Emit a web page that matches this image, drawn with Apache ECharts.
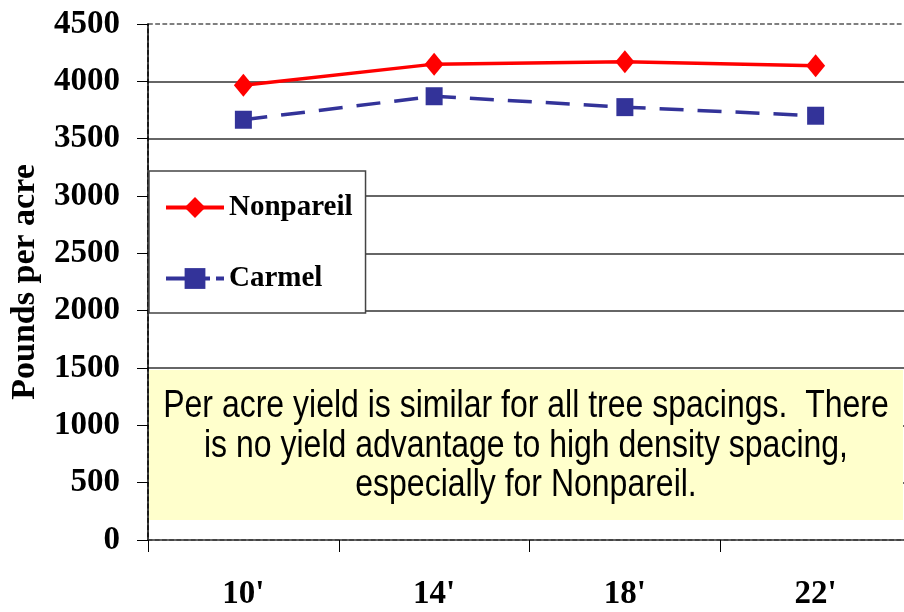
<!DOCTYPE html>
<html>
<head>
<meta charset="utf-8">
<script src="https://cdn.jsdelivr.net/npm/echarts@6/dist/echarts.min.js"></script>
<style>
  html, body { margin: 0; padding: 0; background: #fff; }
  #chart { width: 904px; height: 612px; }
</style>
</head>
<body>
<div id="chart"></div>
<script>
const spacings = ["10'", "14'", "18'", "22'"]
const nonpareil = [3965, 4150, 4170, 4135]
const carmel = [3665, 3870, 3775, 3700]
const yTicks = { min: 0, max: 4500, interval: 500 }
const note = 'Per acre yield is similar for all tree spacings.  There\nis no yield advantage to high density spacing,\nespecially for Nonpareil.'

const serifBold = { fontFamily: 'Liberation Serif', fontWeight: 'bold', color: '#000' }

const chart = echarts.init(document.getElementById('chart'))

const option = {
  animation: false,
  grid: {
    left: 148, top: 24, right: -7, bottom: 72,
    outerBoundsMode: 'none',
    containLabel: false,
    show: true,
    borderColor: '#000', borderWidth: 1.2, borderType: 'dashed',
  },
  legend: {
    orient: 'vertical',
    left: 149, top: 171,
    padding: [22, 13, 20, 15],
    itemWidth: 58, itemHeight: 26, itemGap: 42,
    backgroundColor: '#fff',
    borderColor: '#444', borderWidth: 1.5,
    lineStyle: { width: 4 },
    textStyle: { ...serifBold, fontSize: 29 },
    data: [
      { name: 'Nonpareil', lineStyle: { type: 'solid' } },
      { name: 'Carmel', lineStyle: { type: [19, 6] } },
    ],
  },
  xAxis: {
    type: 'category',
    data: spacings,
    axisLine: { lineStyle: { color: '#333', width: 1.5 } },
    axisTick: { show: true, length: 12, lineStyle: { color: '#000' } },
    axisLabel: { ...serifBold, fontSize: 33, margin: 38 },
  },
  yAxis: {
    type: 'value',
    min: yTicks.min, max: yTicks.max, interval: yTicks.interval,
    name: 'Pounds per acre',
    nameLocation: 'middle',
    nameRotate: 90,
    nameGap: 106,
    nameTextStyle: { ...serifBold, fontSize: 34 },
    axisLine: { show: true, lineStyle: { color: '#000', width: 1.5 } },
    axisTick: { show: true, length: 11, lineStyle: { color: '#000' } },
    axisLabel: { ...serifBold, fontSize: 33, margin: 28, formatter: v => String(v) },
    splitLine: {
      show: true, showMinLine: false, showMaxLine: false,
      lineStyle: { color: '#333', width: 1.5 },
    },
  },
  graphic: [
    {
      type: 'rect', z: 5,
      shape: { x: 149, y: 370, width: 754, height: 150 },
      style: { fill: '#FFFFCC' },
    },
    {
      type: 'text', z: 6,
      x: 526, y: 446,
      scaleY: 1.2,
      style: {
        text: note,
        font: '32px "Liberation Sans"',
        fill: '#000',
        align: 'center', verticalAlign: 'middle',
        lineHeight: 33,
      },
    },
  ],
  series: [
    {
      name: 'Nonpareil',
      type: 'line',
      data: nonpareil,
      symbol: 'diamond',
      symbolSize: [19, 23],
      lineStyle: { color: '#FF0000', width: 3.5 },
      itemStyle: { color: '#FF0000' },
      z: 3,
    },
    {
      name: 'Carmel',
      type: 'line',
      data: carmel,
      symbol: 'rect',
      symbolSize: [17, 18],
      lineStyle: { color: '#333399', width: 3.5, type: [24, 14] },
      itemStyle: { color: '#333399' },
      z: 3,
    },
  ],
}

chart.setOption(option)
</script>
</body>
</html>
